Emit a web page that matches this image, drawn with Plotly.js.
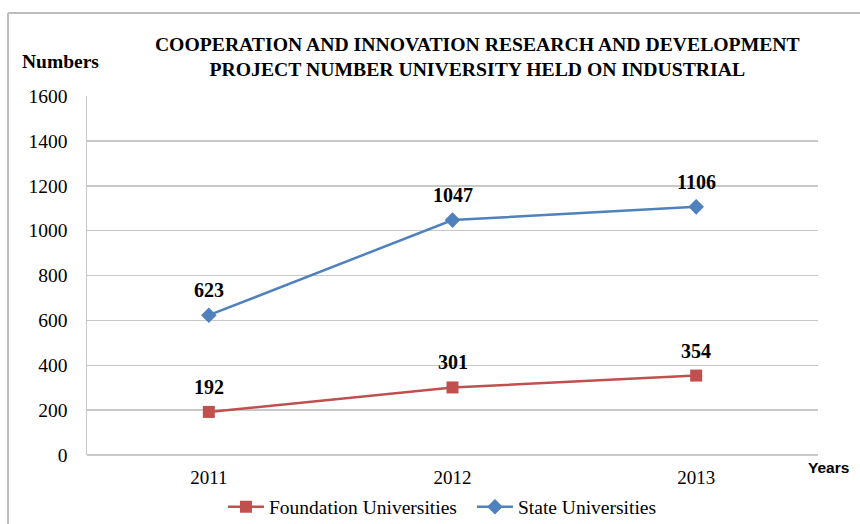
<!DOCTYPE html>
<html>
<head>
<meta charset="utf-8">
<script src="https://cdn.plot.ly/plotly-3.0.1.min.js"></script>
<style>html,body{margin:0;padding:0;background:#fff;}#chart{width:860px;height:524px;}</style>
</head>
<body>
<div id="chart"></div>
<script>
const years = ["2011", "2012", "2013"];
const foundation = [192, 301, 354];
const state = [623, 1047, 1106];
const yTicks = [0, 200, 400, 600, 800, 1000, 1200, 1400, 1600];

const serif = "Liberation Serif, Times New Roman, serif";

const traces = [
  {
    x: years, y: foundation, name: "Foundation Universities", type: "scatter", mode: "lines+markers",
    line: {color: "#c0504d", width: 2.5},
    marker: {symbol: "square", size: 12, color: "#c0504d"}
  },
  {
    x: years, y: state, name: "State Universities", type: "scatter", mode: "lines+markers",
    line: {color: "#4f81bd", width: 2.5},
    marker: {symbol: "diamond", size: 12, color: "#4f81bd"}
  }
];

const annotations = [];
[foundation, state].forEach(series => {
  series.forEach((v, i) => {
    annotations.push({xref: "x", yref: "y", x: i, y: v, text: "<b>" + v + "</b>", showarrow: false,
      xanchor: "center", yanchor: "middle",
      yshift: 25, font: {family: serif, size: 20, color: "#000"}});
  });
});
annotations.push({xref: "paper", yref: "paper", x: 1.015, y: -0.036, text: "<b>Years</b>",
  xanchor: "center", yanchor: "middle",
  showarrow: false, font: {family: "Liberation Sans, Arial, sans-serif", size: 15.5, color: "#000"}});
annotations.push({xref: "paper", yref: "paper", x: -0.036, y: 1.097, text: "<b>Numbers</b>",
  xanchor: "center", yanchor: "middle",
  showarrow: false, font: {family: serif, size: 19.5, color: "#000"}});

const layout = {
  width: 860, height: 524,
  margin: {l: 87, r: 42, t: 96, b: 69},
  paper_bgcolor: "#fff", plot_bgcolor: "#fff",
  title: {
    text: "<b>COOPERATION AND INNOVATION RESEARCH AND DEVELOPMENT<br>PROJECT NUMBER UNIVERSITY HELD ON INDUSTRIAL</b>",
    x: 0.555, xanchor: "center", y: 0.903, yanchor: "middle",
    font: {family: serif, size: 19.7, color: "#000"}
  },
  xaxis: {
    type: "category", range: [-0.5, 2.5], showgrid: false, zeroline: false,
    showline: false, ticks: "", ticklabelstandoff: 9,
    tickfont: {family: serif, size: 19, color: "#000"}
  },
  yaxis: {
    range: [0, 1600], tickvals: yTicks, showgrid: true, gridcolor: "#c8c8c8", gridwidth: 1.5,
    zeroline: true, zerolinecolor: "#c8c8c8", zerolinewidth: 1.5,
    showline: true, linecolor: "#c8c8c8", linewidth: 1.5, ticks: "",
    ticklabelstandoff: 14,
    tickfont: {family: serif, size: 19.5, color: "#000"}
  },
  legend: {
    orientation: "h", x: 0.186, xanchor: "left", xref: "paper",
    yref: "container", y: 0.0324, yanchor: "middle",
    entrywidth: 198, entrywidthmode: "pixels",
    font: {family: serif, size: 19.5, color: "#000"}, itemwidth: 36, tracegroupgap: 0
  },
  annotations: annotations,
  shapes: [
    {type: "line", xref: "paper", yref: "paper", x0: -0.108, x1: -0.108, y0: 1.231, y1: -0.2,
      line: {color: "#bdbdbd", width: 2}},
    {type: "line", xref: "paper", yref: "paper", x0: -0.108, x1: 1.06, y0: 1.231, y1: 1.231,
      line: {color: "#bdbdbd", width: 2}}
  ],
  showlegend: true
};

Plotly.newPlot("chart", traces, layout, {displayModeBar: false, staticPlot: true});
</script>
</body>
</html>
